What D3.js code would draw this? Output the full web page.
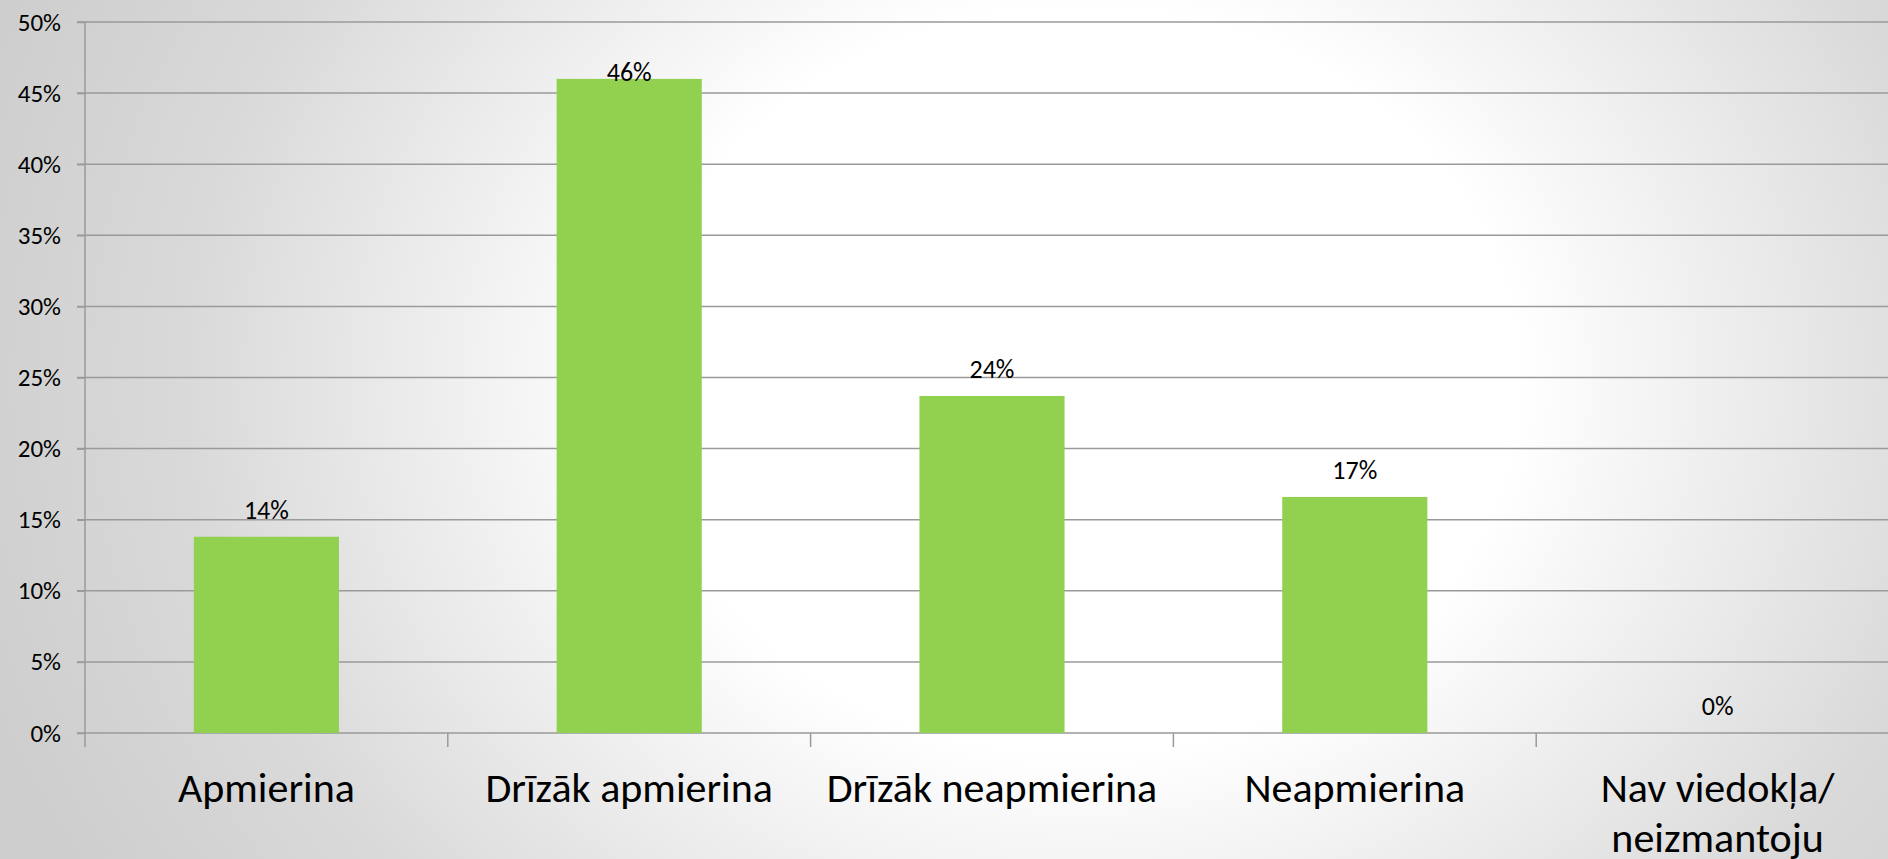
<!DOCTYPE html>
<html>
<head>
<meta charset="utf-8">
<script src="https://cdn.jsdelivr.net/npm/d3@7"></script>
<style>
  html, body { margin: 0; padding: 0; overflow: hidden; }
  body { width: 1888px; height: 859px; }
  text { font-family: Carlito, Lato, "Open Sans", sans-serif; fill: #000; }
</style>
</head>
<body>
<div id="chart"></div>
<script>
// chart data
var categories = ['Apmierina', 'Drīzāk apmierina', 'Drīzāk neapmierina', 'Neapmierina', 'Nav viedokļa/ neizmantoju']
var values = [13.8, 46.0, 23.7, 16.6, 0]
var yTicks = [0, 5, 10, 15, 20, 25, 30, 35, 40, 45, 50]

var width = 1888
var height = 859
var margin = { left: 85, right: -11, top: 22, bottom: 126 }

var svg = d3.select('#chart')
  .append('svg')
  .attr('width', width)
  .attr('height', height)

// slide background: grey edges fading to white in the middle
var defs = svg.append('defs')
var grad = defs.append('radialGradient')
  .attr('id', 'bg')
  .attr('gradientUnits', 'userSpaceOnUse')
  .attr('cx', 1080).attr('cy', 380)
  .attr('r', 1150)
  .attr('gradientTransform', 'translate(1080,380) scale(1,0.85) translate(-1080,-380)')
grad.append('stop').attr('offset', '0').attr('stop-color', '#ffffff')
grad.append('stop').attr('offset', '0.38').attr('stop-color', '#ffffff')
grad.append('stop').attr('offset', '0.78').attr('stop-color', '#d9d9d9')
grad.append('stop').attr('offset', '1').attr('stop-color', '#cecece')

svg.append('rect')
  .attr('width', width)
  .attr('height', height)
  .attr('fill', 'url(#bg)')

var x = d3.scaleBand()
  .domain(categories)
  .range([margin.left, width - margin.right])
  .paddingInner(0.6)
  .paddingOuter(0.3)

var y = d3.scaleLinear()
  .domain([0, 50])
  .range([height - margin.bottom, margin.top])

// horizontal grid lines
svg.append('g')
  .selectAll('line')
  .data(yTicks)
  .enter()
  .append('line')
  .attr('x1', margin.left - 8)
  .attr('x2', width)
  .attr('y1', d => y(d))
  .attr('y2', d => y(d))
  .attr('stroke', '#9a9a9a')
  .attr('stroke-width', 1.5)

// y axis
var yAxis = svg.append('g')
  .attr('transform', 'translate(' + margin.left + ',0)')
  .call(d3.axisLeft(y).tickValues(yTicks).tickSize(8).tickPadding(16).tickFormat(d => d + '%'))
yAxis.select('.domain').remove()
yAxis.selectAll('line').attr('stroke', '#9a9a9a').attr('stroke-width', 1.5)
yAxis.selectAll('text')
  .style('font-family', 'Carlito, Lato, sans-serif')
  .style('font-size', '25px')
  .attr('fill', '#000')

// vertical axis line and category separators
svg.append('line')
  .attr('x1', margin.left).attr('x2', margin.left)
  .attr('y1', y(50)).attr('y2', y(0) + 14)
  .attr('stroke', '#9a9a9a').attr('stroke-width', 1.5)

var step = x.step()
svg.append('g')
  .selectAll('line')
  .data(categories)
  .enter()
  .append('line')
  .attr('x1', d => x(d) - step * 0.3 + step)
  .attr('x2', d => x(d) - step * 0.3 + step)
  .attr('y1', y(0))
  .attr('y2', y(0) + 14)
  .attr('stroke', '#9a9a9a')
  .attr('stroke-width', 1.5)

// bars
svg.append('g')
  .selectAll('rect')
  .data(values)
  .enter()
  .append('rect')
  .attr('x', (d, i) => x(categories[i]))
  .attr('width', x.bandwidth())
  .attr('y', d => y(d))
  .attr('height', d => y(0) - y(d))
  .attr('fill', '#92d050')

// value labels
svg.append('g')
  .selectAll('text')
  .data(values)
  .enter()
  .append('text')
  .attr('x', (d, i) => x(categories[i]) + x.bandwidth() / 2)
  .attr('y', d => Math.max(y(d) - 18, 81))
  .attr('text-anchor', 'middle')
  .style('font-size', '26px')
  .text(d => Math.round(d) + '%')

// category labels (wrapped after the slash)
var catLabels = svg.append('g')
  .selectAll('text')
  .data(categories)
  .enter()
  .append('text')
  .attr('text-anchor', 'middle')
  .style('font-size', '42px')
  .attr('x', d => x(d) + x.bandwidth() / 2)
  .attr('y', 802)

catLabels.each(function (d) {
  var lines = d.split('/ ')
  var t = d3.select(this)
  lines.forEach(function (line, i) {
    t.append('tspan')
      .attr('x', x(d) + x.bandwidth() / 2)
      .attr('dy', i == 0 ? 0 : 50)
      .text(i < lines.length - 1 ? line + '/' : line)
  })
})
</script>
</body>
</html>
